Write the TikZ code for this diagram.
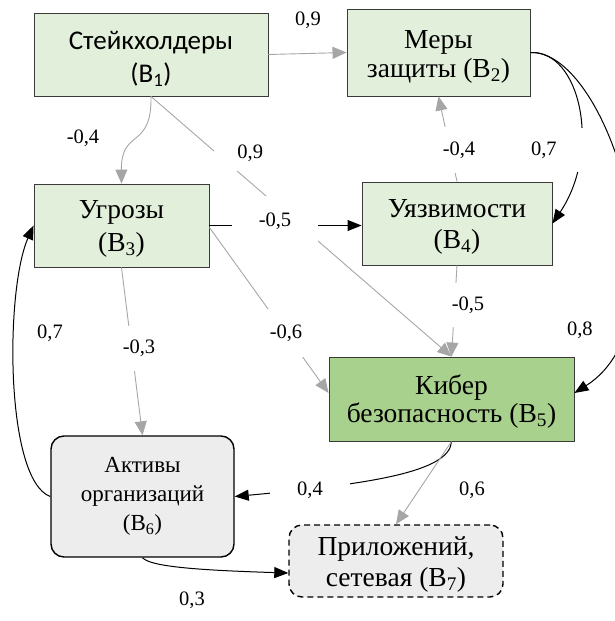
\documentclass[tikz,border=0pt]{standalone}
\usepackage{fontspec}
\setmainfont{Liberation Serif}
\newfontfamily\calib{Carlito}
\usetikzlibrary{arrows.meta,calc}
\definecolor{lgreen}{HTML}{E2EFDA}
\definecolor{mgreen}{HTML}{A9D18E}
\definecolor{lgray}{HTML}{EDEDED}
\definecolor{lnGray}{HTML}{A6A6A6}
\definecolor{bord}{HTML}{3A3A3A}
\newcommand\topstr[1]{\rule{0pt}{#1}}
\tikzset{
  box/.style={draw=bord, line width=0.9pt, inner sep=0pt, align=center,
    font=\fontsize{27.5}{31}\selectfont},
  gbox/.style={box, fill=lgreen},
  rbox/.style={box, draw=black, line width=1.4pt, rounded corners=13pt, fill=lgray},
  gline/.style={draw=lnGray, line width=0.9pt, -{Triangle[length=14pt,width=12pt]}},
  bline/.style={draw=black, line width=1pt, -{Triangle[length=14pt,width=11pt]}},
  lbl/.style={font=\fontsize{20.5}{22}\selectfont, inner sep=0pt},
  gap/.style={lbl, fill=white},
}
\begin{document}
\begin{tikzpicture}[x=1pt,y=-1pt]
\useasboundingbox (0,0) rectangle (615,621);
% boxes
\node[gbox, minimum width=234pt, minimum height=83pt, font=\calib\fontsize{27}{33}\selectfont] (b1) at (151,54.5) {\topstr{27pt}Стейкхолдеры\\(B\textsubscript{1})};
\node[gbox, minimum width=183pt, minimum height=87pt, font=\fontsize{27.5}{29}\selectfont] (b2) at (438.5,52.5) {\topstr{26pt}Меры\\защиты (B\textsubscript{2})};
\node[gbox, minimum width=175pt, minimum height=83pt, font=\fontsize{27.5}{33}\selectfont] (b3) at (121.5,225.5) {\topstr{25pt}Угрозы\\(B\textsubscript{3})};
\node[gbox, minimum width=190pt, minimum height=83pt] (b4) at (457,223.5) {\topstr{25pt}Уязвимости\\(B\textsubscript{4})};
\node[box, fill=mgreen, minimum width=245pt, minimum height=84pt, font=\fontsize{27.5}{28}\selectfont] (b5) at (451.5,399) {\topstr{24pt}Кибер\\безопасность (B\textsubscript{5})};
\node[rbox, minimum width=183pt, minimum height=121pt, font=\fontsize{23}{29}\selectfont] (b6) at (142.5,496.5) {Активы\\организаций\\(B\textsubscript{6})};
\node[rbox, dashed, dash pattern=on 6pt off 4pt, minimum width=214pt, minimum height=72pt, font=\fontsize{27.5}{31}\selectfont] (b7) at (396,561) {\topstr{25pt}Приложений,\\сетевая (B\textsubscript{7})};
% connectors
\draw[gline] (b1.east) -- (b2.west);
\draw[gline] (b1.south) .. controls (152,150) and (121,128) .. (b3.north);
\draw[gline] (b1.south) -- (b5.north);
\draw[gline] (b4.north) -- (b2.south);
\draw[bline] (b2.east) .. controls (580,50) and (602,150) .. (b4.east);
\draw[bline] (b2.east) .. controls (610,50) and (690,320) .. ([yshift=6pt]b5.east);
\draw[bline] (b3.east) -- (b4.west |- b3.east);
\draw[gline] (b4.south) -- (b5.north);
\draw[gline] ([yshift=-2pt]b3.east) -- ([yshift=6pt]b5.west);
\draw[gline] (b3.south) -- (b6.north);
\draw[bline] (b6.west) .. controls (5,480) and (5,290) .. (b3.west);
\draw[bline] (b5.south) .. controls (450,472) and (370,484) .. (b6.east);
\draw[gline] (b5.south) -- (b7.north);
\draw[bline] (b6.south) .. controls (150,566) and (190,570) .. ([yshift=-12pt]b7.west);
% labels
\node[lbl] (l1) at (308,20) {0,9};
\node[lbl] (l2) at (83,138) {-0,4};
\node[gap, text width=46pt, align=right, minimum height=36pt, inner xsep=3pt] (l3) at (240,153) {0,9};
\node[gap, minimum width=86pt, minimum height=50pt] (l4) at (275,221) {-0,5};
\node[gap, minimum width=40pt, minimum height=46pt] (l5) at (459,150) {-0,4};
\node[gap, text width=55pt, align=left, minimum height=44pt, inner xsep=6pt] (l6) at (558.5,150) {0,7};
\node[gap, text width=50pt, align=left, minimum height=46pt, inner xsep=7.5pt] (l7) at (592,330) {0,8};
\node[gap, minimum width=38pt, minimum height=44pt] (l8) at (468,305) {-0,5};
\node[gap, minimum width=42pt, minimum height=48pt] (l9) at (286,333) {-0,6};
\node[gap, minimum width=40pt, minimum height=45pt] (l10) at (139,348) {-0,3};
\node[gap, minimum width=80pt, minimum height=26pt] (l11) at (310,490) {0,4};
\node[lbl] (l12) at (50,333) {0,7};
\node[lbl] (l13) at (472,490) {0,6};
\node[lbl] (l14) at (192,600) {0,3};
\end{tikzpicture}
\end{document}
